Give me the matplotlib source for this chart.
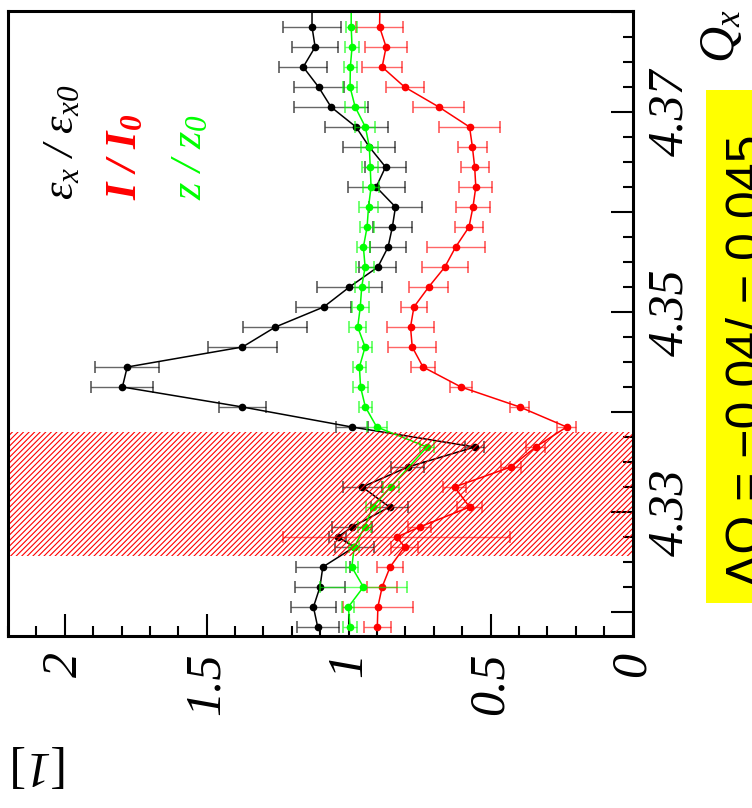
import matplotlib.pyplot as plt
from matplotlib.patches import Rectangle
from matplotlib.ticker import MultipleLocator, FuncFormatter

plt.rcParams['mathtext.fontset'] = 'custom'
plt.rcParams['mathtext.rm'] = 'Liberation Serif:italic'
plt.rcParams['mathtext.it'] = 'Liberation Serif:italic'
plt.rcParams['mathtext.bf'] = 'Liberation Serif:italic:bold'
plt.rcParams['mathtext.bfit'] = 'Liberation Serif:italic:bold'
plt.rcParams['font.family'] = ['Liberation Serif', 'DejaVu Serif']
plt.rcParams['font.style'] = 'italic'
plt.rcParams['hatch.linewidth'] = 0.8
plt.rcParams['hatch.color'] = 'red'

# Tune scan: Q_x working points
q = [4.3805, 4.3785, 4.3765, 4.3745, 4.3725, 4.3705, 4.3685, 4.3665, 4.3645,
     4.3625, 4.3605, 4.3585, 4.3565, 4.3545, 4.3525, 4.3505, 4.3485, 4.3465,
     4.3445, 4.3425, 4.3405, 4.3385, 4.3365, 4.3345, 4.3325, 4.3305, 4.3285,
     4.3275, 4.3265, 4.3245, 4.3225, 4.3205, 4.3185]

# emittance ratio eps_x / eps_x0
emit = [1.129, 1.129, 1.118, 1.160, 1.106, 1.062, 0.974, 0.927, 0.870, 0.903,
        0.835, 0.846, 0.861, 0.897, 0.997, 1.088, 1.258, 1.374, 1.780, 1.797,
        1.374, 0.989, 0.556, 0.791, 0.952, 0.856, 0.988, 1.038, 0.980, 1.091,
        1.101, 1.124, 1.109]
emit_err = [0.100, 0.102, 0.080, 0.085, 0.088, 0.130, 0.111, 0.092, 0.073, 0.100,
            0.092, 0.069, 0.062, 0.065, 0.115, 0.096, 0.113, 0.122, 0.112, 0.109,
            0.082, 0.056, 0.034, 0.058, 0.068, 0.065, 0.070, 0.030, 0.068, 0.095,
            0.088, 0.078, 0.074]

# intensity ratio I / I0
inten = [0.890, 0.891, 0.868, 0.882, 0.803, 0.682, 0.574, 0.564, 0.556, 0.552,
         0.562, 0.576, 0.623, 0.661, 0.718, 0.770, 0.782, 0.776, 0.738, 0.604,
         0.397, 0.232, 0.341, 0.429, 0.627, 0.574, 0.750, 0.830, 0.803, 0.854,
         0.882, 0.897, 0.899]
inten_err = [0.120, 0.083, 0.073, 0.070, 0.067, 0.090, 0.106, 0.051, 0.049, 0.058,
             0.059, 0.048, 0.102, 0.081, 0.068, 0.047, 0.084, 0.084, 0.041, 0.039,
             0.034, 0.034, 0.033, 0.036, 0.040, 0.045, 0.041, 0.400, 0.047, 0.047,
             0.053, 0.122, 0.048]

# bunch length ratio z / z0 (fewer points)
q_z = [4.3805, 4.3785, 4.3765, 4.3745, 4.3725, 4.3705, 4.3685, 4.3665, 4.3645,
       4.3625, 4.3605, 4.3585, 4.3565, 4.3545, 4.3525, 4.3505, 4.3485, 4.3465,
       4.3445, 4.3425, 4.3405, 4.3385, 4.3365, 4.3325, 4.3305, 4.3285, 4.3265,
       4.3245, 4.3225, 4.3205, 4.3185]
blen = [0.991, 0.991, 0.988, 0.994, 0.995, 0.977, 0.941, 0.927, 0.924, 0.921,
        0.930, 0.935, 0.948, 0.942, 0.954, 0.959, 0.968, 0.942, 0.962, 0.958,
        0.941, 0.901, 0.724, 0.852, 0.915, 0.944, 0.980, 0.989, 0.948, 1.001,
        0.995]
blen_err = [0.026, 0.020, 0.026, 0.023, 0.024, 0.035, 0.035, 0.031, 0.028, 0.028,
            0.034, 0.025, 0.024, 0.031, 0.025, 0.029, 0.029, 0.026, 0.024, 0.025,
            0.024, 0.036, 0.025, 0.028, 0.025, 0.022, 0.018, 0.022, 0.154, 0.021,
            0.024]

resonance_band = (4.3256, 4.3380)


def fx(px):
    return px / 752


def fy(py):
    return 1 - py / 808


fig = plt.figure(figsize=(7.52, 8.08), dpi=100)
ax = fig.add_axes([fx(8), fy(635.5), fx(632.5) - fx(8), fy(11) - fy(635.5)])

series = [
    (emit, emit_err, q, 'black'),
    (inten, inten_err, q, 'red'),
    (blen, blen_err, q_z, '#00ff00'),
]
for k, (vals, errs, qq, col) in enumerate(series):
    ax.errorbar(vals, qq, xerr=errs, fmt='none', ecolor=col, alpha=0.6,
                elinewidth=1.0, capsize=4, capthick=1.3, zorder=2 + k)
    ax.plot(vals, qq, '-o', color=col, lw=1.1, ms=4.5, zorder=2.5 + k)

# hatched resonance region drawn above the data
ax.axhspan(*resonance_band, facecolor='none', edgecolor='red', hatch='//////',
           linewidth=0, zorder=6)

ax.set_xlim(2.2, 0)
ax.set_ylim(4.31765, 4.3801)

ax.xaxis.set_major_locator(MultipleLocator(0.5))
ax.xaxis.set_minor_locator(MultipleLocator(0.1))
ax.xaxis.set_major_formatter(FuncFormatter(lambda v, p: '%g' % v))

ax.yaxis.tick_right()
ax.yaxis.set_major_locator(MultipleLocator(0.01))
ax.yaxis.set_minor_locator(MultipleLocator(0.0025))


def qfmt(v, p):
    n = int(round(v * 100))
    return '%.2f' % v if n % 2 == 1 else ''


ax.yaxis.set_major_formatter(FuncFormatter(qfmt))

ax.tick_params(which='both', direction='in', width=1.5, top=False, left=False,
               labelsize=36)
ax.tick_params(which='major', length=15.5)
ax.tick_params(which='minor', length=7.5)
ax.tick_params(axis='x', labelrotation=90, pad=12)
ax.tick_params(axis='y', labelrotation=90, pad=10)
for lab in ax.get_yticklabels():
    lab.set_va('center')

for sp in ax.spines.values():
    sp.set_linewidth(2.2)
    sp.set_zorder(10)

# legend entries
fig.text(fx(62), fy(200), r'$\mathrm{ε}_x\ /\ \mathrm{ε}_{x0}$',
         rotation=90, ha='center', va='bottom', fontsize=32, color='black')
fig.text(fx(125), fy(200), r'$\mathbfit{I}\ \mathbfit{/}\ \mathbfit{I}_{\mathbfit{0}}$',
         rotation=90, ha='center', va='bottom', fontsize=32, color='red')
fig.text(fx(190), fy(200), r'$z\ /\ z_0$',
         rotation=90, ha='center', va='bottom', fontsize=32, color='#00ff00')

# axis titles
fig.text(fx(722), fy(63), r'$Q_x$', rotation=90, ha='center', va='bottom',
         fontsize=36)
fig.text(fx(40), fy(764), r'[$1$]', rotation=180, ha='center',
         va='center', fontsize=36, fontstyle='normal')

# tune shift box
fig.patches.append(Rectangle((fx(706), fy(603)), fx(770) - fx(706),
                             fy(90) - fy(603), transform=fig.transFigure,
                             facecolor='#ffff00', edgecolor='none', zorder=1))
fig.text(fx(726), fy(361), 'ΔQ = −0.04/ − 0.045', rotation=90, ha='left',
         va='center', fontsize=36, family='Liberation Sans', fontstyle='normal',
         zorder=2)

fig.savefig('out.png', dpi=100)
